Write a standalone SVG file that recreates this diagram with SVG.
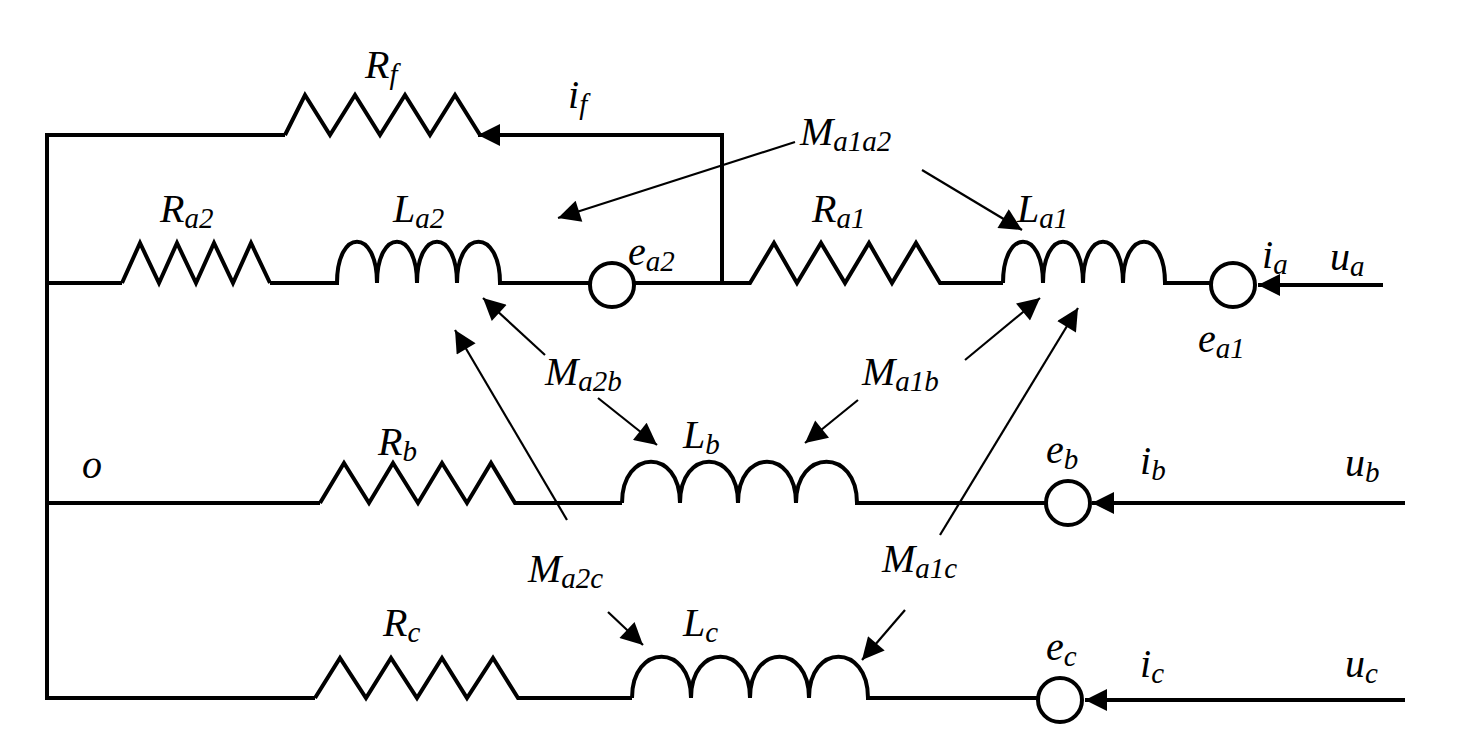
<svg xmlns="http://www.w3.org/2000/svg" width="1463" height="749" viewBox="0 0 1463 749">
<style>
.w{fill:none;stroke:#000;stroke-width:4;stroke-linejoin:miter}
.t{fill:none;stroke:#000;stroke-width:2.2}
.c{fill:#fff;stroke:#000;stroke-width:4}
.s{font-size:29px}
</style>
<defs>
<marker id="ab" viewBox="0 0 10 10" refX="10" refY="5" markerWidth="28" markerHeight="22" markerUnits="userSpaceOnUse" orient="auto"><path d="M0,0L10,5L0,10z"/></marker>
</defs>
<g id="wires">
<path class="w" d="M285,135H47V698H315M47,283H122M47,503H320"/>
<path class="w" d="M478,135H722V283"/>
</g>
<g id="Rf"><path class="w" d="M285,135L305,95L330,135L355,95L380,135L405,95L430,135L455,95L480,135"/></g>
<g id="Ra2"><path class="w" d="M122,283L140,243L159,283L177,243L196,283L214,243L233,283L251,243L270,283"/></g>
<g id="La2"><path class="w" d="M270,283H337C337,228 377,228 377,283C377,228 417,228 417,283C417,228 457,228 457,283C457,228 500,228 500,283H590"/></g>
<g id="ea2"><circle class="c" cx="612" cy="285" r="22"/></g>
<g id="Ra1"><path class="w" d="M634,283H750L774,243L797,283L821,243L845,283L869,243L892,283L916,243L940,283H1003"/></g>
<g id="La1"><path class="w" d="M1003,283C1003,228 1043,228 1043,283C1043,228 1083,228 1083,283C1083,228 1123,228 1123,283C1123,228 1165,228 1165,283H1211"/></g>
<g id="ea1"><circle class="c" cx="1233" cy="285" r="22"/></g>
<g id="Rb"><path class="w" d="M320,503L344,463L369,503L393,463L418,503L442,463L467,503L491,463L515,503H622"/></g>
<g id="Lb"><path class="w" d="M622,503C622,448 680,448 680,503C680,448 738,448 738,503C738,448 796,448 796,503C796,448 857,448 857,503H1046"/></g>
<g id="eb"><circle class="c" cx="1068" cy="503" r="22"/></g>
<g id="Rc"><path class="w" d="M315,698L340,658L366,698L391,658L417,698L442,658L467,698L493,658L518,698H632"/></g>
<g id="Lc"><path class="w" d="M632,698C632,643 691,643 691,698C691,643 750,643 750,698C750,643 809,643 809,698C809,643 868,643 868,698H1038"/></g>
<g id="ec"><circle class="c" cx="1060" cy="700" r="22"/></g>
<g id="connectors">
<path class="w" d="M722,135H478" marker-end="url(#ab)"/>
<path class="w" d="M1383,285H1258" marker-end="url(#ab)"/>
<path class="w" d="M1405,503H1092" marker-end="url(#ab)"/>
<path class="w" d="M1405,700H1085" marker-end="url(#ab)"/>
<g class="t">
<line x1="795" y1="142" x2="558" y2="218" marker-end="url(#ab)"/>
<line x1="922" y1="170" x2="1022" y2="230" marker-end="url(#ab)"/>
<line x1="545" y1="355" x2="483" y2="298" marker-end="url(#ab)"/>
<line x1="598" y1="398" x2="657" y2="445" marker-end="url(#ab)"/>
<line x1="965" y1="360" x2="1040" y2="298" marker-end="url(#ab)"/>
<line x1="858" y1="400" x2="805" y2="443" marker-end="url(#ab)"/>
<line x1="567" y1="520" x2="455" y2="330" marker-end="url(#ab)"/>
<line x1="608" y1="612" x2="643" y2="645" marker-end="url(#ab)"/>
<line x1="940" y1="535" x2="1078" y2="308" marker-end="url(#ab)"/>
<line x1="905" y1="610" x2="862" y2="660" marker-end="url(#ab)"/>
</g>
</g>
<g id="labels" font-family="Liberation Serif, Times New Roman, serif" font-style="italic" font-size="40" fill="#000">
<text x="365" y="78">R<tspan class="s" dy="6">f</tspan></text>
<text x="568" y="108">i<tspan class="s" dy="6">f</tspan></text>
<text x="800" y="145">M<tspan class="s" dy="6">a1a2</tspan></text>
<text x="160" y="222">R<tspan class="s" dy="6">a2</tspan></text>
<text x="393" y="222">L<tspan class="s" dy="6">a2</tspan></text>
<text x="628" y="265">e<tspan class="s" dy="6">a2</tspan></text>
<text x="812" y="222">R<tspan class="s" dy="6">a1</tspan></text>
<text x="1017" y="222">L<tspan class="s" dy="6">a1</tspan></text>
<text x="1262" y="268">i<tspan class="s" dy="6">a</tspan></text>
<text x="1330" y="270">u<tspan class="s" dy="6">a</tspan></text>
<text x="1198" y="352">e<tspan class="s" dy="6">a1</tspan></text>
<text x="545" y="385">M<tspan class="s" dy="6">a2b</tspan></text>
<text x="862" y="385">M<tspan class="s" dy="6">a1b</tspan></text>
<text x="82" y="478">o</text>
<text x="378" y="455">R<tspan class="s" dy="6">b</tspan></text>
<text x="683" y="448">L<tspan class="s" dy="6">b</tspan></text>
<text x="1046" y="463">e<tspan class="s" dy="6">b</tspan></text>
<text x="1140" y="474">i<tspan class="s" dy="6">b</tspan></text>
<text x="1345" y="476">u<tspan class="s" dy="6">b</tspan></text>
<text x="528" y="582">M<tspan class="s" dy="6">a2c</tspan></text>
<text x="882" y="572">M<tspan class="s" dy="6">a1c</tspan></text>
<text x="383" y="636">R<tspan class="s" dy="6">c</tspan></text>
<text x="683" y="636">L<tspan class="s" dy="6">c</tspan></text>
<text x="1046" y="660">e<tspan class="s" dy="6">c</tspan></text>
<text x="1140" y="677">i<tspan class="s" dy="6">c</tspan></text>
<text x="1345" y="677">u<tspan class="s" dy="6">c</tspan></text>
</g>
</svg>
